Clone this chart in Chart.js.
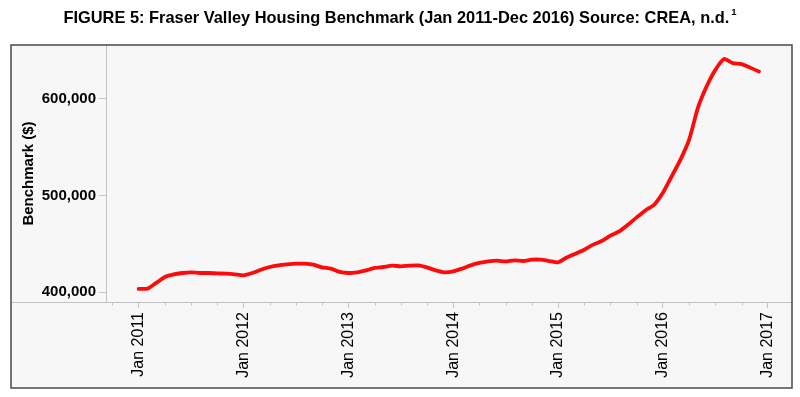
<!DOCTYPE html>
<html>
<head>
<meta charset="utf-8">
<script src="https://cdn.jsdelivr.net/npm/chart.js@4/dist/chart.umd.min.js"></script>
<style>
html,body{margin:0;padding:0;background:#fff;}
canvas{display:block;}
</style>
</head>
<body>
<canvas id="c" width="800" height="397"></canvas>
<script>
// ---- data ----
const months = [
 'Jan 2011','Feb 2011','Mar 2011','Apr 2011','May 2011','Jun 2011','Jul 2011','Aug 2011','Sep 2011','Oct 2011','Nov 2011','Dec 2011',
 'Jan 2012','Feb 2012','Mar 2012','Apr 2012','May 2012','Jun 2012','Jul 2012','Aug 2012','Sep 2012','Oct 2012','Nov 2012','Dec 2012',
 'Jan 2013','Feb 2013','Mar 2013','Apr 2013','May 2013','Jun 2013','Jul 2013','Aug 2013','Sep 2013','Oct 2013','Nov 2013','Dec 2013',
 'Jan 2014','Feb 2014','Mar 2014','Apr 2014','May 2014','Jun 2014','Jul 2014','Aug 2014','Sep 2014','Oct 2014','Nov 2014','Dec 2014',
 'Jan 2015','Feb 2015','Mar 2015','Apr 2015','May 2015','Jun 2015','Jul 2015','Aug 2015','Sep 2015','Oct 2015','Nov 2015','Dec 2015',
 'Jan 2016','Feb 2016','Mar 2016','Apr 2016','May 2016','Jun 2016','Jul 2016','Aug 2016','Sep 2016','Oct 2016','Nov 2016','Dec 2016'
];
const benchmark = [
 403500, 403800, 409700, 415900, 418600, 420000, 420700, 420000, 420000, 419600, 419300, 418600,
 417600, 420000, 423400, 426200, 427900, 428900, 429600, 429600, 428600, 425800, 424500, 421100,
 420000, 420700, 422700, 425200, 426200, 427600, 426900, 427600, 427900, 425800, 422700, 420700,
 421700, 424500, 427900, 430400, 432000, 432700, 432000, 433100, 432400, 433800, 433800, 432400,
 431000, 436000, 440000, 444100, 449300, 453100, 458600, 463000, 469900, 477500, 484700, 490600,
 503000, 519800, 537000, 557700, 590500, 612800, 630000, 641400, 637000, 636000, 632400, 628300
];
const xTickLabels = ['Jan 2011','Jan 2012','Jan 2013','Jan 2014','Jan 2015','Jan 2016','Jan 2017'];
const xTickMonths = [0, 12, 24, 36, 48, 60, 72];
const xMinorMonths = [-3, 3, 6, 9, 15, 18, 21, 27, 30, 33, 39, 42, 45, 51, 54, 57, 63, 66, 69];
const yTicks = [400000, 500000, 600000];
const titleText = 'FIGURE 5: Fraser Valley Housing Benchmark (Jan 2011-Dec 2016) Source: CREA, n.d.';
const titleSup = '1';
const yTitle = 'Benchmark ($)';

// ---- settings ----
const X_MIN = -3.74, X_MAX = 74.78;
const Y_MIN = 390000, Y_MAX = 655800;
const AXIS_COLOR = '#c2c2c2';
const BOX = {left: 11, top: 45, right: 792, bottom: 388};
const FONT = '"Liberation Sans", Arial, Helvetica, sans-serif';

function fmt(v){ return String(v).replace(/\B(?=(\d{3})+(?!\d))/g, ','); }

const framePlugin = {
  id: 'frame',
  beforeDraw(chart){
    const ctx = chart.ctx;
    ctx.save();
    ctx.fillStyle = '#ffffff';
    ctx.fillRect(0, 0, chart.width, chart.height);
    ctx.fillStyle = '#f7f7f7';
    ctx.fillRect(BOX.left, BOX.top, BOX.right - BOX.left, BOX.bottom - BOX.top);
    ctx.restore();
  },
  afterDraw(chart){
    const ctx = chart.ctx;
    const xs = chart.scales.x;
    const b = Math.round(chart.chartArea.bottom) + 0.5;
    ctx.save();
    ctx.strokeStyle = AXIS_COLOR;
    ctx.lineWidth = 1;
    ctx.beginPath();
    ctx.moveTo(BOX.left, b);
    ctx.lineTo(BOX.right, b);
    xMinorMonths.forEach(m => {
      const px = Math.round(xs.getPixelForValue(m)) + 0.5;
      ctx.moveTo(px, b);
      ctx.lineTo(px, b + 3);
    });
    ctx.stroke();
    ctx.strokeStyle = '#4a4a4a';
    ctx.lineWidth = 1.5;
    ctx.strokeRect(BOX.left, BOX.top, BOX.right - BOX.left, BOX.bottom - BOX.top);

    // title with superscript
    ctx.fillStyle = '#000';
    ctx.textBaseline = 'alphabetic';
    ctx.textAlign = 'left';
    ctx.font = 'bold 16.4px ' + FONT;
    const w = ctx.measureText(titleText).width;
    ctx.font = 'bold 9.5px ' + FONT;
    const sw = ctx.measureText(titleSup).width;
    const total = w + 2 + sw;
    const x0 = chart.width / 2 - total / 2;
    ctx.font = 'bold 16.4px ' + FONT;
    ctx.fillText(titleText, x0, 22.7);
    ctx.font = 'bold 9.5px ' + FONT;
    ctx.fillText(titleSup, x0 + w + 2, 14.5);
    ctx.restore();
  }
};

new Chart(document.getElementById('c'), {
  type: 'line',
  data: {
    labels: months,
    datasets: [{
      data: benchmark.map((v, i) => ({x: i, y: v})),
      borderColor: '#ff0a0a',
      borderWidth: 3.8,
      pointRadius: 0,
      tension: 0.2,
      fill: false,
      borderCapStyle: 'round',
      borderJoinStyle: 'round'
    }]
  },
  options: {
    responsive: false,
    animation: false,
    devicePixelRatio: 1,
    layout: {padding: {left: 0, right: 8, top: 45, bottom: 0}},
    plugins: {
      legend: {display: false},
      tooltip: {enabled: false},
      title: {display: false}
    },
    scales: {
      x: {
        type: 'linear',
        min: X_MIN, max: X_MAX,
        afterBuildTicks: s => { s.ticks = xTickMonths.map(v => ({value: v})); },
        afterFit: s => { s.height = 95; },
        grid: {drawOnChartArea: false, drawTicks: true, tickLength: 6, color: AXIS_COLOR},
        border: {display: false},
        ticks: {
          autoSkip: false, minRotation: 90, maxRotation: 90, padding: 4,
          color: '#000',
          font: {family: FONT, size: 16},
          callback: (v, i) => xTickLabels[i]
        }
      },
      y: {
        min: Y_MIN, max: Y_MAX,
        afterBuildTicks: s => { s.ticks = yTicks.map(v => ({value: v})); },
        afterFit: s => { s.width = 106; },
        grid: {drawOnChartArea: false, drawTicks: true, tickLength: 7, color: AXIS_COLOR},
        border: {display: true, color: AXIS_COLOR, width: 1},
        ticks: {
          padding: 3, color: '#000',
          font: {family: FONT, size: 15, weight: 'bold'},
          callback: v => fmt(v)
        },
        title: {
          display: true, text: yTitle, color: '#000',
          font: {family: FONT, size: 15, weight: 'bold'},
          padding: {top: 20, bottom: 0}
        }
      }
    }
  },
  plugins: [framePlugin]
});
</script>
</body>
</html>
